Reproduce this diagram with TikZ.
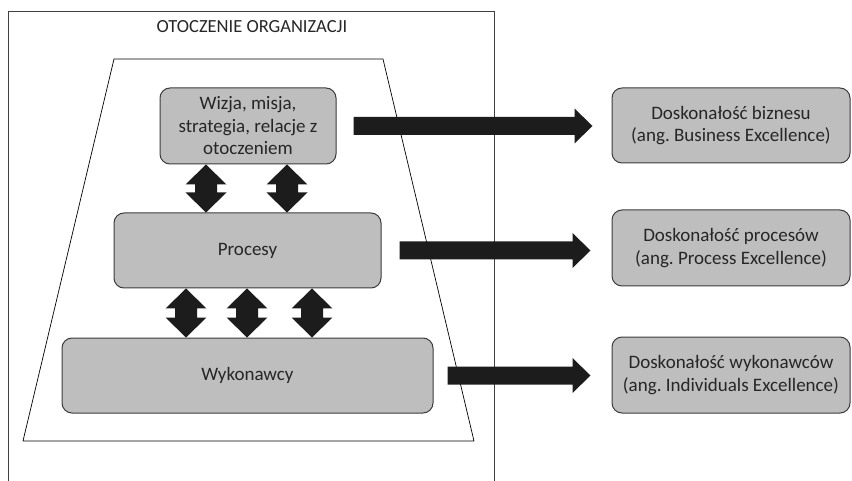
\documentclass[tikz,border=0pt]{standalone}
\usepackage{fontspec}
\setmainfont{Carlito}
\frenchspacing
\usetikzlibrary{calc}
\definecolor{boxfill}{HTML}{BEBEBE}
\definecolor{boxline}{HTML}{3C3C3C}
\definecolor{arrowfill}{HTML}{1C1C1C}
\tikzset{
  gbox/.style={draw=boxline, line width=1pt, fill=boxfill, rounded corners=10pt,
    align=center, inner sep=0pt, text=black!85, font=\fontsize{19}{22.5}\selectfont},
  arrowshape/.style={fill=arrowfill},
  frame/.style={draw=black!75, line width=0.7pt}
}
\newcommand{\vdbl}[3]{% x, upper anchor, lower anchor
  \path[arrowshape] let \p1=(#2), \p2=(#3) in
    (#1,\y1) -- (#1+20.5,\y1-20) -- (#1+11,\y1-20) -- (#1+11,\y2+20) -- (#1+20.5,\y2+20)
    -- (#1,\y2) -- (#1-20.5,\y2+20) -- (#1-11,\y2+20) -- (#1-11,\y1-20) -- (#1-20.5,\y1-20) -- cycle;}
\newcommand{\hsgl}[4]{% from anchor, to anchor, start gap, end gap
  \path[arrowshape] let \p1=(#1), \p2=(#2) in
    (\x1+#3,\y1+9) -- (\x2-#4-18,\y1+9) -- (\x2-#4-18,\y1+17.5) -- (\x2-#4,\y1)
    -- (\x2-#4-18,\y1-17.5) -- (\x2-#4-18,\y1-9) -- (\x1+#3,\y1-9) -- cycle;}
\begin{document}
\begin{tikzpicture}[x=1pt,y=1pt]
\useasboundingbox (0,0) rectangle (852,480);
\fill[white] (0,0) rectangle (852,480);
% environment frame
\draw[frame] (8,-5) -- (8,469) -- (494,469) -- (494,-5);
\node[font=\fontsize{18.5}{22}\selectfont, anchor=base, inner sep=0pt, text=black!85] (title) at (252,447) {OTOCZENIE ORGANIZACJI};
% trapezoid
\draw[black, line width=0.7pt] (114,421) -- (383,421) -- (474,39) -- (23,39) -- cycle;
% left boxes
\node[gbox, minimum width=176pt, minimum height=76pt] (b1) at (248,354) {Wizja, misja,\\strategia, relacje z\\otoczeniem};
\node[gbox, minimum width=267pt, minimum height=75pt] (b2) at (247.5,229.5) {Procesy};
\node[gbox, minimum width=371pt, minimum height=75pt] (b3) at (247.5,104.5) {Wykonawcy};
% right boxes
\node[gbox, minimum width=238pt, minimum height=75pt] (r1) at (731,354.5) {Doskonałość biznesu\\(ang. Business Excellence)};
\node[gbox, minimum width=238pt, minimum height=76pt] (r2) at (731,232) {Doskonałość procesów\\(ang. Process Excellence)};
\node[gbox, minimum width=238pt, minimum height=76pt] (r3) at (731,105) {Doskonałość wykonawców\\(ang. Individuals Excellence)};
% double arrows
\vdbl{206}{b1.south}{b2.north}
\vdbl{287}{b1.south}{b2.north}
\vdbl{186}{b2.south}{b3.north}
\vdbl{247}{b2.south}{b3.north}
\vdbl{312}{b2.south}{b3.north}
% right arrows
\hsgl{b1.east}{r1.west}{17}{19}
\hsgl{b2.east}{r2.west}{18}{21}
\hsgl{b3.east}{r3.west}{14}{21}
\end{tikzpicture}
\end{document}
